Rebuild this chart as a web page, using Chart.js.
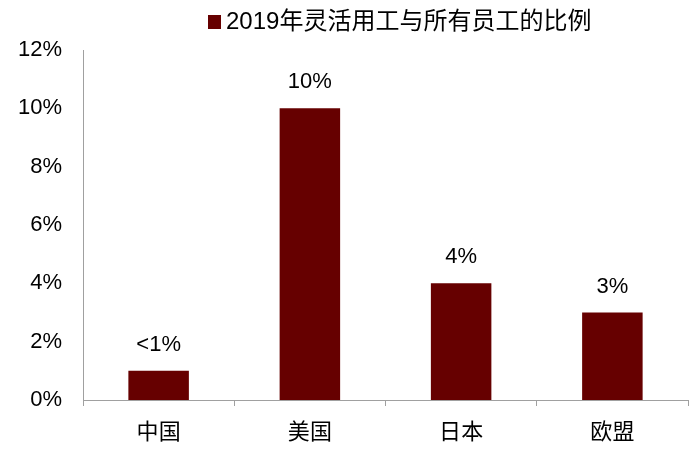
<!DOCTYPE html>
<html>
<head>
<meta charset="utf-8">
<script src="https://cdn.jsdelivr.net/npm/chart.js@4/dist/chart.umd.min.js"></script>
<style>
  html, body { margin: 0; padding: 0; background: #fff; }
  #chart { display: block; }
</style>
</head>
<body>
<canvas id="chart" width="700" height="455"></canvas>
<script>
// ========== Data ==========

const regions = ['中国', '美国', '日本', '欧盟'];
const shareValues = [1, 10, 4, 3];
const shareLabels = ['<1%', '10%', '4%', '3%'];
const seriesName = '2019年灵活用工与所有员工的比例';
const yTicks = [0, 2, 4, 6, 8, 10, 12];

const FONT = "'Liberation Sans', Arial, 'Noto Sans CJK SC', sans-serif";
const BAR_COLOR = '#660000';
const AXIS_COLOR = '#a0a0a0';

// ========== Plugins ==========

// value labels above each bar
const barLabels = {
  id: 'barLabels',
  afterDatasetsDraw(chart) {
    const ctx = chart.ctx;
    const meta = chart.getDatasetMeta(0);
    ctx.save();
    ctx.font = '22px ' + FONT;
    ctx.fillStyle = '#000';
    ctx.textAlign = 'center';
    ctx.textBaseline = 'middle';
    meta.data.forEach((bar, i) => {
      ctx.fillText(shareLabels[i], bar.x, bar.y - 26);
    });
    ctx.restore();
  }
};

// simple legend: square + series name
const topLegend = {
  id: 'topLegend',
  afterDraw(chart) {
    const ctx = chart.ctx;
    ctx.save();
    ctx.font = '24px ' + FONT;
    const x0 = 208;
    const y = 22;
    ctx.fillStyle = BAR_COLOR;
    ctx.fillRect(x0, y - 7, 13, 14);
    ctx.fillStyle = '#000';
    ctx.textBaseline = 'middle';
    ctx.textAlign = 'left';
    ctx.fillText(seriesName, x0 + 18, y);
    ctx.restore();
  }
};

// ========== Chart ==========

const ctx = document.getElementById('chart').getContext('2d');

new Chart(ctx, {
  type: 'bar',
  data: {
    labels: regions,
    datasets: [{
      label: seriesName,
      data: shareValues,
      backgroundColor: BAR_COLOR,
      borderWidth: 0,
      barPercentage: 0.4,
      categoryPercentage: 1,
    }],
  },
  options: {
    responsive: false,
    animation: false,
    layout: { padding: { top: 50, right: 12, bottom: 0, left: 0 } },
    scales: {
      x: {
        grid: {
          display: true,
          drawOnChartArea: false,
          drawTicks: true,
          tickLength: 6,
          offset: true,
          color: AXIS_COLOR,
        },
        border: { display: true, color: AXIS_COLOR, width: 1 },
        ticks: { color: '#000', font: { size: 22, family: FONT }, padding: 14 },
        afterFit(scale) { scale.height = 55; },
      },
      y: {
        min: 0,
        max: 12,
        afterBuildTicks(scale) {
          scale.ticks = yTicks.map(v => ({ value: v }));
        },
        grid: { display: false, drawTicks: false },
        border: { display: true, color: AXIS_COLOR, width: 1 },
        ticks: {
          color: '#000',
          font: { size: 22, family: FONT },
          padding: 21,
          callback: v => v + '%',
        },
        afterFit(scale) { scale.width = 83; },
      },
    },
    plugins: {
      legend: { display: false },
      tooltip: { enabled: false },
    },
  },
  plugins: [barLabels, topLegend],
});
</script>
</body>
</html>
